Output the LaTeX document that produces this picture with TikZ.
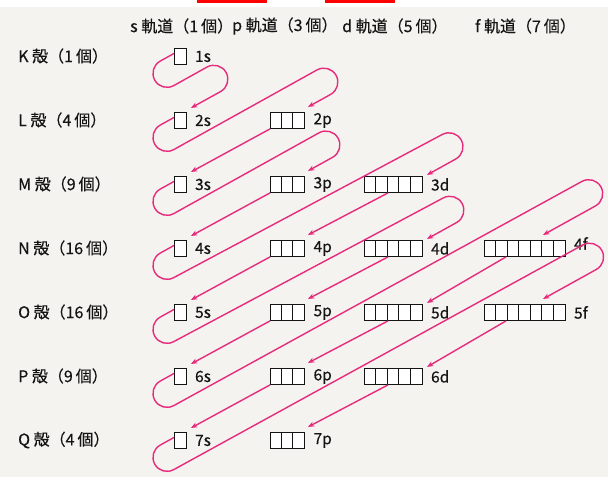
\documentclass[tikz,border=0pt]{standalone}
\usepackage{fontspec}
\newfontfamily\jp[FakeBold=0.35]{Noto Sans CJK JP}
\usetikzlibrary{calc,arrows.meta}
\definecolor{bg}{HTML}{F5F3EF}
\definecolor{snk}{HTML}{E62A7C}
\definecolor{ink}{HTML}{141414}
\newcommand\snakeloop[3]{%
  \draw[snake] ($(#1.west)+(0,-3)$) -- ++(151:15.8)
    arc[start angle=241,end angle=61,radius=14]
    -- ($(#2)+(-29:#3)+(241:28)$)
    arc[start angle=-119,end angle=61,radius=14] -- (#2);}
\begin{document}
\begin{tikzpicture}[x=1pt,y=-1pt,
  txt/.style={font=\jp\fontsize{16}{19}\selectfont, text=ink, inner sep=0pt, anchor=west},
  otxt/.style={font=\jp\fontsize{15.5}{18}\selectfont, text=ink, inner sep=0pt, anchor=west},
  obox/.style={draw=ink, line width=0.9pt, fill=white, minimum height=16pt, inner sep=0pt, anchor=north west},
  cellline/.style={draw=ink, line width=0.9pt},
  snake/.style={draw=snk, line width=1.4pt, -{Stealth[length=6.5pt,width=5pt]}, line join=round}
]
\useasboundingbox (0,0) rectangle (608,477);
\fill[bg] (0,0) rectangle (608,477);
\fill[white] (0,0) rectangle (608,7);
\fill[red] (197,0) rectangle (267,3);
\fill[red] (325,0) rectangle (395,3);

% header
\node[txt] (hs) at (130,26) {s 軌道（1\hspace{3pt}個）};
\node[txt] (hp) at (232,26) {p 軌道（3\hspace{3pt}個）};
\node[txt] (hd) at (342,26) {d 軌道（5\hspace{3pt}個）};
\node[txt] (hf) at (475,26) {f 軌道（7\hspace{3pt}個）};

% shell labels
\foreach \sh/\cnt/\rr in {K/1/1, L/4/2, M/9/3, N/16/4, O/16/5, P/9/6, Q/4/7}{
  \node[txt] (sh\sh) at (18,{56+64*(\rr-1)}) {\sh\ 殻（\cnt\hspace{3pt}個）};
}

% orbital boxes
\foreach \nm/\xx/\rr/\cc/\dy in {1s/174/1/1/0, 2s/174/2/1/0, 2p/269.5/2/3/0,
  3s/174/3/1/0, 3p/269.5/3/3/0, 3d/364/3/5/0,
  4s/174/4/1/0, 4p/269.5/4/3/0, 4d/364/4/5/0, 4f/484/4/7/-5,
  5s/174/5/1/0, 5p/269.5/5/3/0, 5d/364/5/5/0, 5f/484/5/7/0,
  6s/174/6/1/0, 6p/269.5/6/3/0, 6d/364/6/5/0,
  7s/174/7/1/0, 7p/269.5/7/3/0}{
  \node[obox, minimum width=\cc*11.5pt] (b\nm) at (\xx,{56+64*(\rr-1)-8}) {};
  \ifnum\cc>1
    \foreach \i in {2,...,\cc}
      \draw[cellline] ($(b\nm.north west)+({(\i-1)*11.5},0)$) -- ($(b\nm.south west)+({(\i-1)*11.5},0)$);
  \fi
  \node[otxt] (l\nm) at ($(b\nm.east)+(8.5,\dy)$) {\nm};
}

% arrow tips
\foreach \nm in {2s,3s,4s,5s,6s,7s}{\coordinate (t\nm) at ($(b\nm.north east)+(4.5,-4)$);}
\foreach \nm in {2p,3p,4p,5p,6p,7p}{\coordinate (t\nm) at ($(b\nm.north east)+(3,-5)$);}
\foreach \nm in {3d,4d,5d,6d}{\coordinate (t\nm) at ($(b\nm.north east)+(4.5,-1)$);}
\foreach \nm in {4f,5f}{\coordinate (t\nm) at ($(b\nm.north west)+(59,-5)$);}
% exits
\foreach \nm in {2p,3p,4p,5p,6p}{\coordinate (e\nm) at ($(b\nm.south west)+(0.5,0)$);}
\foreach \nm in {3d,4d,5d,6d}{\coordinate (e\nm) at ($(b\nm.south west)+(24,0)$);}
\foreach \nm in {4f,5f}{\coordinate (e\nm) at ($(b\nm.south west)+(22,0)$);}

% the Madelung path
\snakeloop{b1s}{t2s}{34}
\snakeloop{b2s}{t2p}{26}
\draw[snake] (e2p) -- (t3s);
\snakeloop{b3s}{t3p}{28.3}
\draw[snake] (e3p) -- (t4s);
\snakeloop{b4s}{t3d}{33}
\draw[snake] (e3d) -- (t4p);
\draw[snake] (e4p) -- (t5s);
\snakeloop{b5s}{t4d}{34}
\draw[snake] (e4d) -- (t5p);
\draw[snake] (e5p) -- (t6s);
\snakeloop{b6s}{t4f}{60}
\draw[snake] (e4f) -- (t5d);
\draw[snake] (e5d) -- (t6p);
\draw[snake] (e6p) -- (t7s);
\snakeloop{b7s}{t5f}{61}
\draw[snake] (e5f) -- (t6d);
\draw[snake] (e6d) -- (t7p);
\end{tikzpicture}
\end{document}
